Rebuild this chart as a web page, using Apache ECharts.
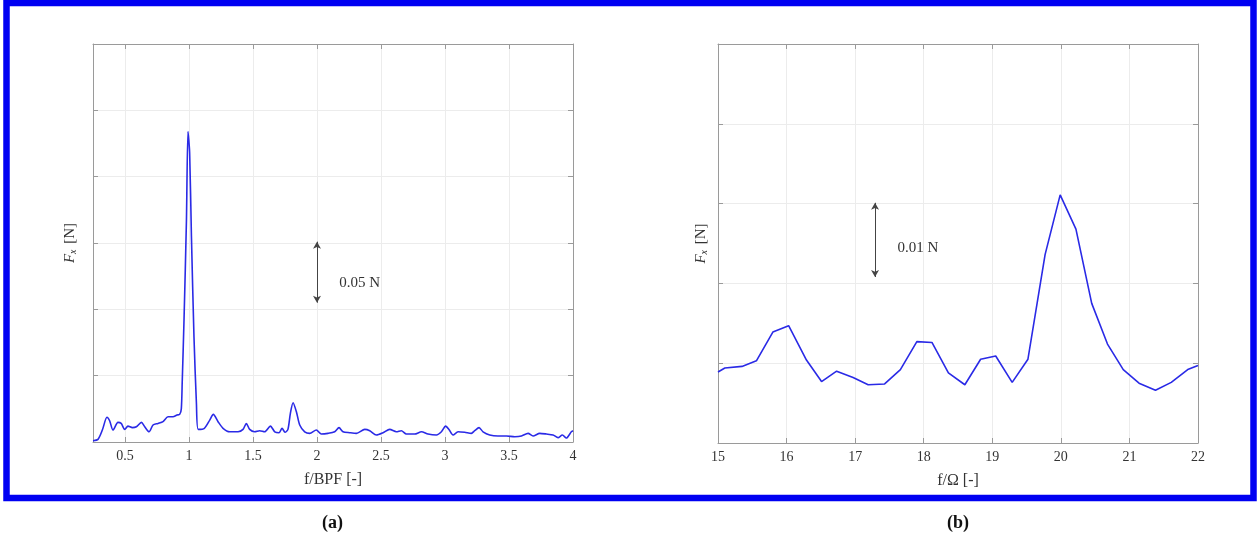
<!DOCTYPE html>
<html>
<head>
<meta charset="utf-8">
<script src="https://cdn.jsdelivr.net/npm/echarts@6/dist/echarts.min.js"></script>
<style>
html,body{margin:0;padding:0;background:#fff;}
#c{width:1257px;height:542px;}
</style>
</head>
<body>
<div id="c"></div>
<script>
// ---- Data ----
const leftX = [0.25,0.289,0.323,0.359,0.38,0.406,0.445,0.47,0.498,0.523,0.558,0.589,0.628,0.654,0.688,0.719,0.758,0.797,0.836,0.875,0.906,0.927,0.94,0.947,0.961,0.98,0.992,1.005,1.019,1.039,1.058,1.072,1.12,1.162,1.19,1.227,1.266,1.318,1.383,1.422,1.448,1.474,1.513,1.552,1.591,1.636,1.67,1.703,1.727,1.75,1.773,1.792,1.813,1.839,1.865,1.904,1.943,1.995,2.034,2.086,2.138,2.172,2.203,2.255,2.308,2.373,2.412,2.464,2.516,2.568,2.62,2.659,2.698,2.763,2.816,2.867,2.933,2.972,3.005,3.031,3.063,3.102,3.154,3.206,3.232,3.266,3.297,3.349,3.414,3.48,3.545,3.597,3.649,3.688,3.74,3.792,3.844,3.883,3.917,3.948,3.987,4.0];
const leftY = [0.001,0.002,0.009,0.0186,0.016,0.009,0.0148,0.014,0.0095,0.012,0.0108,0.0115,0.0148,0.0115,0.0077,0.0128,0.014,0.0153,0.019,0.019,0.0203,0.0208,0.025,0.045,0.0917,0.167,0.234,0.218,0.155,0.079,0.029,0.0095,0.0103,0.0165,0.0208,0.0153,0.0103,0.0077,0.0077,0.0095,0.014,0.0095,0.0077,0.0085,0.0077,0.012,0.0077,0.007,0.0103,0.0073,0.0095,0.0216,0.0296,0.0228,0.0128,0.0077,0.0065,0.009,0.006,0.0065,0.0077,0.0108,0.0077,0.007,0.0065,0.0095,0.0085,0.0053,0.007,0.0095,0.0077,0.0085,0.006,0.006,0.0077,0.006,0.0053,0.0077,0.012,0.0095,0.0053,0.0077,0.0073,0.0065,0.0085,0.0108,0.0077,0.0053,0.0045,0.0045,0.004,0.0045,0.0065,0.0045,0.0065,0.006,0.0053,0.0033,0.0053,0.003,0.0077,0.0085];

const rightX = [15.0,15.1,15.35,15.56,15.8,16.03,16.29,16.51,16.73,16.97,17.19,17.43,17.66,17.9,18.12,18.36,18.6,18.83,19.05,19.29,19.52,19.77,19.99,20.22,20.45,20.68,20.91,21.14,21.38,21.61,21.85,22.0];
const rightY = [0.0089,0.0094,0.0096,0.0103,0.0139,0.0147,0.0104,0.0077,0.0090,0.0082,0.0073,0.0074,0.0092,0.0127,0.0126,0.0088,0.0073,0.0105,0.0109,0.0076,0.0105,0.0236,0.0311,0.0268,0.0175,0.0124,0.0092,0.0075,0.0066,0.0076,0.0092,0.0097];

// tick values
const leftXTicks = [0.5, 1, 1.5, 2, 2.5, 3, 3.5, 4];
const rightXTicks = [15, 16, 17, 18, 19, 20, 21, 22];

// annotation values (data units)
const leftArrow = {x: 2.0, from: 0.105, to: 0.151, labelX: 2.17, labelY: 0.1195, text: '0.05 N'};
const rightArrow = {x: 17.29, from: 0.0208, to: 0.0301, labelX: 17.61, labelY: 0.0244, text: '0.01 N'};

const leftXAxisName = 'f/BPF [-]';
const rightXAxisName = 'f/\u03A9 [-]';
const captions = ['(a)', '(b)'];

// ---- Chart ----
const FONT = '"Liberation Serif", "DejaVu Serif", serif';
const AXIS_COLOR = '#9a9a9a';
const GRID_COLOR = '#ececec';
const LINE_COLOR = '#2a2ae6';

const chart = echarts.init(document.getElementById('c'), null, {renderer: 'canvas'});

function zip(a, b) { return a.map((v, i) => [v, b[i]]); }

function mainX(gi, min, max, ticks, name) {
  return {
    type: 'value', gridIndex: gi, min: min, max: max,
    name: name, nameLocation: 'middle', nameGap: 30,
    nameTextStyle: {fontFamily: FONT, fontSize: 16, color: '#333'},
    axisLine: {show: true, onZero: false, lineStyle: {color: AXIS_COLOR, width: 1}},
    axisTick: {show: true, inside: true, length: 5, lineStyle: {color: AXIS_COLOR}, customValues: ticks},
    axisLabel: {fontFamily: FONT, fontSize: 14, color: '#333', margin: 7, customValues: ticks,
      formatter: v => String(v)},
    splitLine: {show: true, lineStyle: {color: GRID_COLOR, width: 1}}
  };
}
function topXAxis(gi, min, max, ticks) {
  return {
    type: 'value', gridIndex: gi, position: 'top', min: min, max: max,
    axisLine: {show: true, onZero: false, lineStyle: {color: AXIS_COLOR, width: 1}},
    axisTick: {show: true, inside: true, length: 5, lineStyle: {color: AXIS_COLOR}, customValues: ticks},
    axisLabel: {show: false, customValues: ticks}, splitLine: {show: false}
  };
}
function mainYAxis(gi, min, max, interval, gap) {
  return {
    type: 'value', gridIndex: gi, min: min, max: max, interval: interval,
    name: '{i|F}{s|x} [N]', nameLocation: 'middle', nameGap: gap,
    nameTextStyle: {fontFamily: FONT, fontSize: 15, color: '#333',
      rich: {
        i: {fontFamily: FONT, fontStyle: 'italic', fontSize: 15, color: '#333'},
        s: {fontFamily: FONT, fontStyle: 'italic', fontSize: 10, color: '#333', verticalAlign: 'bottom', padding: [6, 2, 0, 0]}
      }},
    axisLine: {show: true, onZero: false, lineStyle: {color: AXIS_COLOR, width: 1}},
    axisTick: {show: true, inside: true, length: 5, lineStyle: {color: AXIS_COLOR}},
    axisLabel: {show: false},
    splitLine: {show: true, lineStyle: {color: GRID_COLOR, width: 1}}
  };
}
function sideYAxis(gi, min, max, interval) {
  return {
    type: 'value', gridIndex: gi, position: 'right', min: min, max: max, interval: interval,
    axisLine: {show: true, onZero: false, lineStyle: {color: AXIS_COLOR, width: 1}},
    axisTick: {show: true, inside: true, length: 5, lineStyle: {color: AXIS_COLOR}},
    axisLabel: {show: false}, splitLine: {show: false}
  };
}

function annotation(a) {
  return {
    markLine: {
      silent: true, animation: false,
      symbol: ['arrow', 'arrow'], symbolSize: [6, 7],
      lineStyle: {color: '#444', width: 1, type: 'solid'},
      label: {show: false},
      data: [[{coord: [a.x, a.from]}, {coord: [a.x, a.to]}]]
    },
    markPoint: {
      silent: true, animation: false,
      symbol: 'circle', symbolSize: 1, itemStyle: {color: 'rgba(0,0,0,0)'},
      label: {show: true, position: 'right', distance: 0, formatter: a.text,
        fontFamily: FONT, fontSize: 15, color: '#333'},
      data: [{coord: [a.labelX, a.labelY]}]
    }
  };
}

const option = {
  animation: false,
  backgroundColor: '#fff',
  grid: [
    {left: 93, top: 44, width: 480, height: 398, show: false},
    {left: 718, top: 44, width: 480, height: 399, show: false}
  ],
  xAxis: [
    mainX(0, 0.25, 4, leftXTicks, leftXAxisName),
    mainX(1, 15, 22, rightXTicks, rightXAxisName),
    topXAxis(0, 0.25, 4, leftXTicks),
    topXAxis(1, 15, 22, rightXTicks)
  ],
  yAxis: [
    mainYAxis(0, 0, 0.3, 0.05, 15),
    mainYAxis(1, 0, 0.05, 0.01, 9),
    sideYAxis(0, 0, 0.3, 0.05),
    sideYAxis(1, 0, 0.05, 0.01)
  ],
  series: [
    Object.assign({
      type: 'line', xAxisIndex: 0, yAxisIndex: 0, data: zip(leftX, leftY),
      showSymbol: false, symbol: 'none', smooth: 0.25,
      lineStyle: {color: LINE_COLOR, width: 1.6}
    }, annotation(leftArrow)),
    Object.assign({
      type: 'line', xAxisIndex: 1, yAxisIndex: 1, data: zip(rightX, rightY),
      showSymbol: false, symbol: 'none', smooth: false,
      lineStyle: {color: LINE_COLOR, width: 1.6}
    }, annotation(rightArrow))
  ],
  graphic: [
    {type: 'rect', silent: true,
      shape: {x: 6.5, y: 3, width: 1247, height: 495},
      style: {fill: 'none', stroke: '#0000f2', lineWidth: 6.5}},
    {type: 'text', left: 322, top: 514, silent: true,
      style: {text: captions[0], fontFamily: FONT, fontWeight: 'bold', fontSize: 18, fill: '#111'}},
    {type: 'text', left: 947, top: 514, silent: true,
      style: {text: captions[1], fontFamily: FONT, fontWeight: 'bold', fontSize: 18, fill: '#111'}}
  ]
};
chart.setOption(option);
</script>
</body>
</html>
